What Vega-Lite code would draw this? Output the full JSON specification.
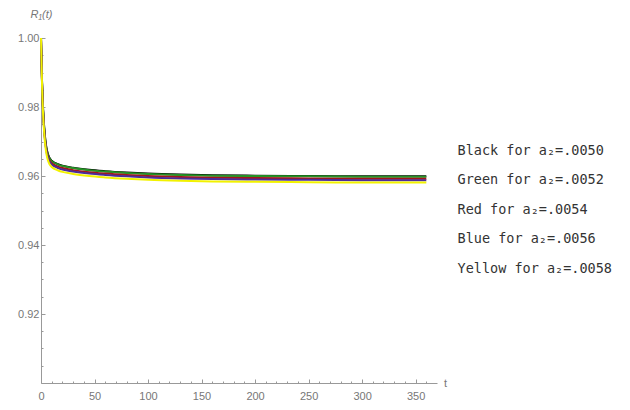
{
  "$schema": "https://vega.github.io/schema/vega-lite/v6.json",
  "autosize": "none",
  "width": 396,
  "height": 345,
  "padding": {"left": 41, "top": 38, "right": 193, "bottom": 27},
  "background": "white",
  "config": {"view": {"stroke": null}},
  "data": {"values": [
    {"t": 0, "Black": 1.0, "Green": 1.0, "Red": 1.0, "Blue": 1.0, "Yellow": 1.0},
    {"t": 1, "Black": 0.9871, "Green": 0.9870, "Red": 0.9866, "Blue": 0.9864, "Yellow": 0.9860},
    {"t": 2, "Black": 0.9791, "Green": 0.9790, "Red": 0.9785, "Blue": 0.9782, "Yellow": 0.9776},
    {"t": 3, "Black": 0.9741, "Green": 0.9740, "Red": 0.9734, "Blue": 0.9731, "Yellow": 0.9724},
    {"t": 4, "Black": 0.9706, "Green": 0.9705, "Red": 0.9700, "Blue": 0.9696, "Yellow": 0.9689},
    {"t": 5, "Black": 0.9683, "Green": 0.9682, "Red": 0.9677, "Blue": 0.9673, "Yellow": 0.9666},
    {"t": 6, "Black": 0.9669, "Green": 0.9668, "Red": 0.9662, "Blue": 0.9658, "Yellow": 0.9651},
    {"t": 7, "Black": 0.9659, "Green": 0.9658, "Red": 0.9652, "Blue": 0.9648, "Yellow": 0.9641},
    {"t": 8, "Black": 0.9652, "Green": 0.9651, "Red": 0.9645, "Blue": 0.9641, "Yellow": 0.9634},
    {"t": 10, "Black": 0.9644, "Green": 0.9643, "Red": 0.9637, "Blue": 0.9633, "Yellow": 0.9626},
    {"t": 13, "Black": 0.9638, "Green": 0.9637, "Red": 0.9631, "Blue": 0.9627, "Yellow": 0.9620},
    {"t": 16, "Black": 0.9634, "Green": 0.9633, "Red": 0.9627, "Blue": 0.9623, "Yellow": 0.9616},
    {"t": 20, "Black": 0.9630, "Green": 0.9629, "Red": 0.9623, "Blue": 0.9619, "Yellow": 0.9612},
    {"t": 30, "Black": 0.9624, "Green": 0.9623, "Red": 0.9617, "Blue": 0.9613, "Yellow": 0.9606},
    {"t": 45, "Black": 0.9618, "Green": 0.9617, "Red": 0.9611, "Blue": 0.9607, "Yellow": 0.9600},
    {"t": 60, "Black": 0.9614, "Green": 0.9613, "Red": 0.9607, "Blue": 0.9603, "Yellow": 0.9596},
    {"t": 80, "Black": 0.9610, "Green": 0.9609, "Red": 0.9603, "Blue": 0.9599, "Yellow": 0.9592},
    {"t": 100, "Black": 0.9607, "Green": 0.9606, "Red": 0.9600, "Blue": 0.9596, "Yellow": 0.9589},
    {"t": 130, "Black": 0.9604, "Green": 0.9603, "Red": 0.9597, "Blue": 0.9593, "Yellow": 0.9586},
    {"t": 160, "Black": 0.9602, "Green": 0.9601, "Red": 0.9595, "Blue": 0.9591, "Yellow": 0.9584},
    {"t": 200, "Black": 0.9601, "Green": 0.9600, "Red": 0.9594, "Blue": 0.9590, "Yellow": 0.9583},
    {"t": 250, "Black": 0.9600, "Green": 0.9599, "Red": 0.9593, "Blue": 0.9589, "Yellow": 0.9582},
    {"t": 300, "Black": 0.9599, "Green": 0.9598, "Red": 0.9592, "Blue": 0.9588, "Yellow": 0.9581},
    {"t": 360, "Black": 0.9599, "Green": 0.9598, "Red": 0.9592, "Blue": 0.9588, "Yellow": 0.9581}
  ]},
  "transform": [
    {"fold": ["Black", "Green", "Red", "Blue", "Yellow"], "as": ["series", "value"]}
  ],
  "mark": {"type": "line", "strokeWidth": 2, "interpolate": "monotone"},
  "encoding": {
    "x": {
      "field": "t", "type": "quantitative",
      "scale": {"domain": [0, 370], "nice": false, "zero": false},
      "axis": {
        "values": [0,10,20,30,40,50,60,70,80,90,100,110,120,130,140,150,160,170,180,190,200,210,220,230,240,250,260,270,280,290,300,310,320,330,340,350,360],
        "labelExpr": "datum.value % 50 == 0 ? datum.label : ''",
        "tickSize": {"condition": {"test": "datum.value % 50 == 0", "value": -4}, "value": -2},
        "tickColor": "#999999",
        "domainColor": "#999999",
        "labelColor": "#777777",
        "labelFont": "Liberation Sans",
        "labelFontSize": 11,
        "labelPadding": 11,
        "labelFlush": false,
        "labelOverlap": false,
        "grid": false,
        "title": "t",
        "titleX": 404,
        "titleY": 0,
        "titleAlign": "center",
        "titleBaseline": "middle",
        "titleAngle": 0,
        "titleFont": "Liberation Sans",
        "titleFontSize": 11,
        "titleFontWeight": "normal",
        "titleColor": "#777777"
      }
    },
    "y": {
      "field": "value", "type": "quantitative",
      "scale": {"domain": [0.9, 1.0], "nice": false, "zero": false},
      "axis": {
        "values": [0.905,0.91,0.915,0.92,0.925,0.93,0.935,0.94,0.945,0.95,0.955,0.96,0.965,0.97,0.975,0.98,0.985,0.99,0.995,1.0],
        "labelExpr": "(round(datum.value*1000) % 20 == 0 && datum.value > 0.91) ? format(datum.value, '.2f') : ''",
        "tickSize": {"condition": {"test": "round(datum.value*1000) % 20 == 0", "value": -4}, "value": -2},
        "tickColor": "#999999",
        "domainColor": "#999999",
        "labelColor": "#777777",
        "labelFont": "Liberation Sans",
        "labelFontSize": 11,
        "labelPadding": 6,
        "labelFlush": false,
        "labelOverlap": false,
        "grid": false,
        "title": "R₁(t)",
        "titleX": 0,
        "titleY": -24,
        "titleAlign": "center",
        "titleBaseline": "middle",
        "titleAngle": 0,
        "titleFont": "Liberation Sans",
        "titleFontSize": 11,
        "titleFontStyle": "italic",
        "titleFontWeight": "normal",
        "titleColor": "#777777"
      }
    },
    "color": {
      "field": "series", "type": "nominal",
      "scale": {"domain": ["Black", "Green", "Red", "Blue", "Yellow"], "range": ["#000000", "#259225", "#a01818", "#4b2c9a", "#f2f200"]},
      "legend": {
        "orient": "none",
        "legendX": 403,
        "legendY": 106,
        "title": null,
        "padding": 0,
        "symbolSize": 0,
        "symbolStrokeWidth": 0,
        "labelOffset": 0,
        "labelFont": "DejaVu Sans Mono",
        "labelFontSize": 13.5,
        "labelColor": "#333333",
        "labelLimit": 300,
        "rowPadding": 14.5,
        "labelExpr": "datum.label == 'Black' ? 'Black for a₂=.0050' : datum.label == 'Green' ? 'Green for a₂=.0052' : datum.label == 'Red' ? 'Red for a₂=.0054' : datum.label == 'Blue' ? 'Blue for a₂=.0056' : 'Yellow for a₂=.0058'"
      }
    }
  }
}
